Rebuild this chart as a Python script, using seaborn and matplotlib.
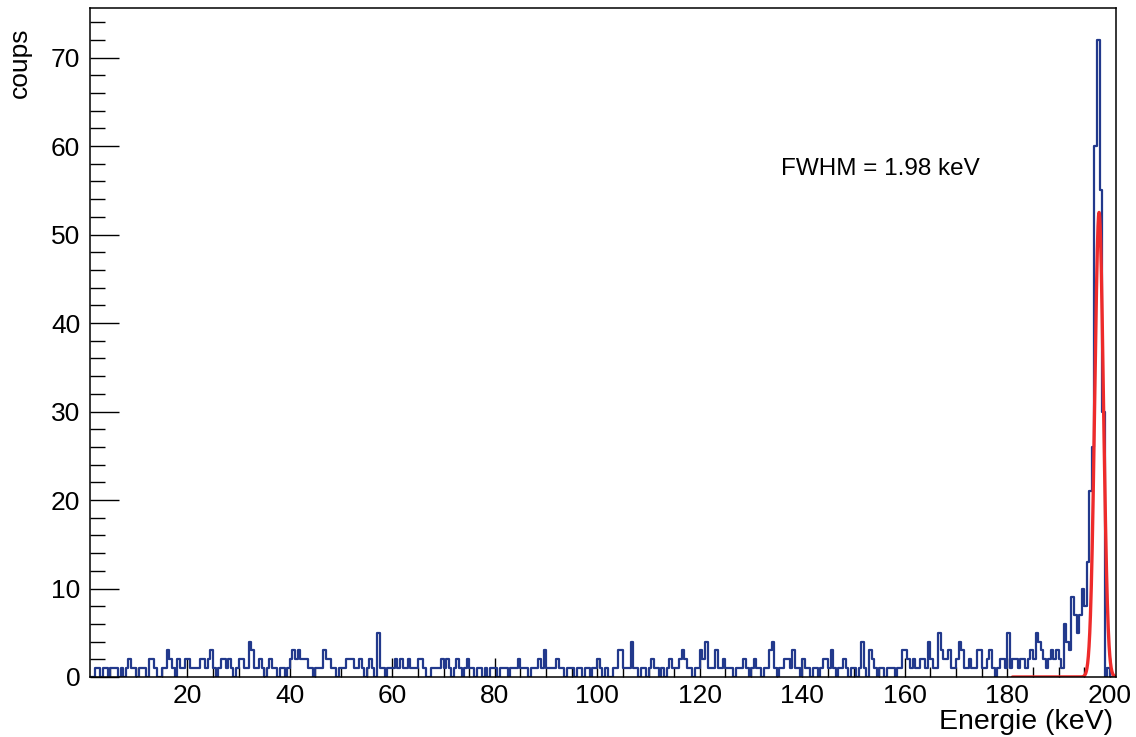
import numpy as np
import pandas as pd
import matplotlib
matplotlib.use("Agg")
import matplotlib.pyplot as plt
from matplotlib.ticker import MultipleLocator
import seaborn as sns

# %%
# spectrum counts, 0.5 keV bins, first bin starts at 1.0 keV
bin_start = 1.0
bin_width = 0.5
counts_001_011 = [0, 0, 1, 1, 0, 1, 1, 0, 1, 1, 1, 0, 1, 0, 1, 2, 1, 1, 0, 1]
counts_011_021 = [1, 1, 0, 2, 2, 1, 0, 0, 1, 1, 3, 2, 1, 0, 2, 1, 1, 2, 2, 1]
counts_021_031 = [1, 1, 1, 2, 2, 1, 2, 3, 1, 0, 1, 2, 2, 1, 2, 1, 0, 1, 2, 2]
counts_031_041 = [1, 1, 4, 3, 1, 1, 2, 1, 0, 1, 2, 1, 1, 0, 1, 1, 0, 1, 2, 3]
counts_041_051 = [2, 3, 2, 2, 2, 1, 1, 0, 1, 1, 1, 3, 2, 2, 1, 1, 0, 1, 1, 1]
counts_051_061 = [2, 2, 2, 1, 1, 2, 1, 0, 1, 2, 1, 0, 5, 1, 1, 0, 1, 1, 1, 2]
counts_061_071 = [1, 2, 1, 1, 2, 1, 1, 1, 2, 2, 1, 0, 0, 1, 1, 1, 1, 2, 1, 2]
counts_071_081 = [1, 0, 1, 2, 1, 0, 1, 2, 1, 1, 0, 1, 1, 0, 1, 0, 1, 1, 1, 0]
counts_081_091 = [1, 1, 1, 0, 1, 1, 1, 2, 1, 1, 1, 0, 1, 1, 1, 2, 1, 3, 1, 1]
counts_091_101 = [1, 1, 2, 1, 1, 0, 1, 1, 1, 0, 1, 1, 0, 1, 1, 0, 1, 1, 2, 1]
counts_101_111 = [0, 1, 0, 0, 1, 1, 3, 3, 1, 1, 1, 4, 1, 1, 0, 1, 1, 0, 1, 2]
counts_111_121 = [1, 1, 0, 1, 0, 1, 2, 1, 1, 1, 2, 3, 2, 1, 1, 0, 1, 1, 3, 2]
counts_121_131 = [4, 1, 1, 1, 3, 1, 1, 2, 1, 1, 1, 0, 1, 1, 1, 2, 1, 0, 1, 2]
counts_131_141 = [1, 1, 0, 1, 1, 3, 4, 1, 0, 1, 1, 2, 2, 1, 3, 1, 1, 0, 2, 1]
counts_141_151 = [1, 0, 1, 1, 0, 1, 2, 2, 1, 3, 1, 0, 1, 1, 2, 1, 0, 1, 1, 0]
counts_151_161 = [1, 4, 1, 0, 3, 2, 1, 0, 1, 1, 0, 1, 1, 1, 0, 1, 1, 3, 3, 2]
counts_161_171 = [1, 2, 1, 1, 2, 2, 1, 4, 2, 1, 1, 5, 3, 2, 2, 3, 1, 1, 2, 4]
counts_171_181 = [3, 1, 1, 2, 1, 1, 3, 3, 1, 1, 2, 3, 1, 0, 1, 2, 2, 1, 5, 1]
counts_181_191 = [2, 2, 1, 2, 2, 1, 2, 3, 2, 5, 4, 3, 2, 1, 2, 3, 2, 3, 2, 1]
counts_191_201 = [6, 4, 3, 9, 7, 5, 7, 10, 8, 13, 21, 26, 60, 72, 55, 30, 0, 1, 0, 0]

# gaussian fit drawn on top
fit_amp = 52.5
fit_mean = 197.9
fit_fwhm = 1.98
fit_range = (181.0, 201.2)
fwhm_label = "FWHM = 1.98 keV"

x_label = "Energie (keV)"
y_label = "coups"

# %%
counts = np.concatenate([
    counts_001_011, counts_011_021, counts_021_031, counts_031_041,
    counts_041_051, counts_051_061, counts_061_071, counts_071_081,
    counts_081_091, counts_091_101, counts_101_111, counts_111_121,
    counts_121_131, counts_131_141, counts_141_151, counts_151_161,
    counts_161_171, counts_171_181, counts_181_191, counts_191_201,
])
edges = bin_start + bin_width * np.arange(len(counts) + 1)
df = pd.DataFrame({"energy": edges[:-1] + bin_width / 2, "counts": counts})

sigma = fit_fwhm / (2 * np.sqrt(2 * np.log(2)))
fit_x = np.linspace(fit_range[0], fit_range[1], 600)
fit_df = pd.DataFrame({
    "energy": fit_x,
    "counts": fit_amp * np.exp(-0.5 * ((fit_x - fit_mean) / sigma) ** 2),
})

# %%
sns.set_style("ticks")
plt.rcParams["font.family"] = ["Liberation Sans", "DejaVu Sans"]
plt.rcParams["text.color"] = "black"
plt.rcParams["xtick.color"] = "black"
plt.rcParams["ytick.color"] = "black"

W, H = 1136, 737
fig = plt.figure(figsize=(W / 100, H / 100), dpi=100)
ax = fig.add_axes([90 / W, 1 - 677 / H, (1116 - 90) / W, (677 - 8) / H])

sns.histplot(data=df, x="energy", weights="counts", binwidth=bin_width,
             binrange=(edges[0], edges[-1]), element="step", fill=False,
             color="#22398c", linewidth=1.6, ax=ax)
sns.lineplot(data=fit_df, x="energy", y="counts", color="#ee2b2b",
             linewidth=2.4, ax=ax)

ax.set_xlim(1.0, 201.2)
ax.set_ylim(0, 75.6)
ax.set_xlabel("")
ax.set_ylabel("")

ax.xaxis.set_major_locator(MultipleLocator(20))
ax.xaxis.set_minor_locator(MultipleLocator(5))
ax.yaxis.set_major_locator(MultipleLocator(10))
ax.yaxis.set_minor_locator(MultipleLocator(2))
ax.set_xticks(np.arange(20, 201, 20))

ax.tick_params(axis="x", which="major", direction="in", length=14, width=1.0,
               labelsize=19, pad=5, colors="black")
ax.tick_params(axis="x", which="minor", direction="in", length=7, width=1.0,
               colors="black")
ax.tick_params(axis="y", which="major", direction="in", length=21, width=1.0,
               labelsize=19, pad=7, colors="black")
ax.tick_params(axis="y", which="minor", direction="in", length=10.5, width=1.0,
               colors="black")

for s in ax.spines.values():
    s.set_visible(True)
    s.set_linewidth(1.1)
    s.set_color("black")

ax.text(135.9, 57.4, fwhm_label, ha="left", va="center", fontsize=17.5,
        color="black")

fig.text(1113 / W, 1 - 722 / H, x_label, ha="right", va="center",
         fontsize=20.5, color="black")
fig.text(20 / W, 1 - 28 / H, y_label, rotation=90, ha="center", va="top",
         fontsize=19, color="black")

fig.savefig("out.png", dpi=100)
